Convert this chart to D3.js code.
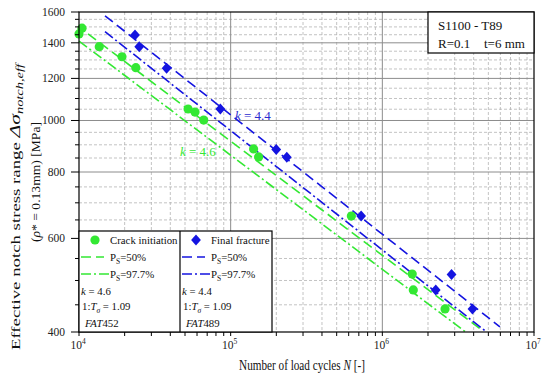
<!DOCTYPE html>
<html><head><meta charset="utf-8">
<script src="https://cdn.jsdelivr.net/npm/d3@7"></script>
<style>body{margin:0;background:#fff}svg{display:block}</style>
</head><body><svg id="c" width="550" height="375" font-family="Liberation Serif, Times New Roman, serif"></svg>
<script>
// data
const ciN = [10000, 10470, 13600, 19200, 23700, 52400, 58200, 66400, 141600, 152800, 625000, 1574000, 1600000, 2590000];
const ciS = [1455, 1492, 1377, 1318, 1257, 1051, 1037, 1002, 884, 854, 661, 514, 480, 442];
const ffN = [23400, 24950, 37800, 85500, 199700, 234500, 725000, 2250000, 2860000, 3930000];
const ffS = [1448, 1377, 1254, 1051, 882, 853, 661, 480, 513, 442];
const ciMeanN = [11465, 4540000], ciMeanS = [1455, 403];
const ciLowN = [10000, 3540000], ciLowS = [1411, 400];
const ffMeanN = [14840, 5960000], ffMeanS = [1574, 409];
const ffLowN = [14840, 4870000], ffLowS = [1469, 400];
const yTicks = [400, 600, 800, 1000, 1200, 1400, 1600];
const xTicks = [1e4, 1e5, 1e6, 1e7];
const xExp = ["4", "5", "6", "7"];

const GREEN = "#33e833", BLUE = "#1414e0";
const svg = d3.select("#c");
const L = 79, R = 534, T = 12, B = 332;
const x = d3.scaleLog().domain([1e4, 1e7]).range([L, R]);
const y = d3.scaleLog().domain([400, 1600]).range([B, T]);

const yMinor = d3.range(400, 1601, 50);
const xMinor = [];
[1e4, 1e5, 1e6].forEach(d => { for (let m = 2; m <= 9; m++) xMinor.push(d * m); });

const g = svg.append("g");
g.selectAll(".hm").data(yMinor.filter(v => v % 200 !== 0)).join("line")
  .attr("x1", L).attr("x2", R).attr("y1", d => y(d)).attr("y2", d => y(d))
  .attr("stroke", "#b4b4b4").attr("stroke-width", 0.8).attr("stroke-dasharray", "3,2");
g.selectAll(".vm").data(xMinor).join("line")
  .attr("y1", T).attr("y2", B).attr("x1", d => x(d)).attr("x2", d => x(d))
  .attr("stroke", "#b4b4b4").attr("stroke-width", 0.8).attr("stroke-dasharray", "3,2");
g.selectAll(".hM").data(yTicks.slice(1, -1)).join("line")
  .attr("x1", L).attr("x2", R).attr("y1", d => y(d)).attr("y2", d => y(d))
  .attr("stroke", "#8c8c8c").attr("stroke-width", 1);
g.selectAll(".vM").data(xTicks.slice(1, -1)).join("line")
  .attr("y1", T).attr("y2", B).attr("x1", d => x(d)).attr("x2", d => x(d))
  .attr("stroke", "#8c8c8c").attr("stroke-width", 1);

const line = d3.line().x(d => x(d[0])).y(d => y(d[1]));
function sn(N, S, col, dash) {
  svg.append("path").datum(d3.zip(N, S)).attr("d", line).attr("fill", "none")
    .attr("stroke", col).attr("stroke-width", 1.6).attr("stroke-dasharray", dash);
}
const DASH = "10,5", DASHDOT = "10,3,2,3";
sn(ciMeanN, ciMeanS, GREEN, DASH);
sn(ciLowN, ciLowS, GREEN, DASHDOT);
sn(ffMeanN, ffMeanS, BLUE, DASH);
sn(ffLowN, ffLowS, BLUE, DASHDOT);

const diamond = d3.symbol().type(d3.symbolSquare).size(48);
const dT = (cx, cy) => `translate(${cx},${cy}) scale(1,1.12) rotate(45)`;
svg.append("g").selectAll("path").data(d3.zip(ffN, ffS)).join("path")
  .attr("d", diamond).attr("transform", d => dT(x(d[0]), y(d[1]))).attr("fill", BLUE);
svg.append("g").selectAll("circle").data(d3.zip(ciN, ciS)).join("circle")
  .attr("cx", d => x(d[0])).attr("cy", d => y(d[1])).attr("r", 4.6).attr("fill", GREEN);

function klab(xx, yy, val, col) {
  const t = svg.append("text").attr("x", xx).attr("y", yy).attr("fill", col).attr("font-size", 13);
  t.append("tspan").attr("font-style", "italic").text("k");
  t.append("tspan").text(" = " + val);
}
klab(235, 120, "4.4", "#2b2bd0");
klab(180, 156, "4.6", GREEN);

const ax = svg.append("g");
ax.append("rect").attr("x", L).attr("y", T).attr("width", R - L).attr("height", B - T)
  .attr("fill", "none").attr("stroke", "#000").attr("stroke-width", 1.2);
ax.selectAll(".yt").data(yMinor).join("line")
  .attr("x1", d => yTicks.includes(d) ? L - 8 : L - 4).attr("x2", L)
  .attr("y1", d => y(d)).attr("y2", d => y(d)).attr("stroke", "#000").attr("stroke-width", 1);
ax.selectAll(".yl").data(yTicks).join("text")
  .attr("x", L - 14).attr("y", d => y(d) + 4).attr("text-anchor", "end").attr("font-size", 11.5)
  .attr("fill", "#222").text(d => d);
ax.selectAll(".xt").data(xTicks.concat(xMinor)).join("line")
  .attr("x1", d => x(d)).attr("x2", d => x(d)).attr("y1", B).attr("y2", B + 4)
  .attr("stroke", "#000").attr("stroke-width", 1);
xTicks.forEach((v, i) => {
  const t = ax.append("text").attr("x", x(v) - 1).attr("y", B + 17).attr("text-anchor", "middle")
    .attr("font-size", 11.5).attr("fill", "#222");
  t.append("tspan").text("10");
  t.append("tspan").attr("font-size", 7.5).attr("dy", -5).text(xExp[i]);
});

function fit(sel, cx, cy, len, rot) {
  const w = sel.node().getBBox().width;
  sel.attr("transform", `translate(${cx},${cy}) rotate(${rot}) scale(${len / w},1)`);
}
const xt = svg.append("text").attr("text-anchor", "middle").attr("font-size", 14).attr("fill", "#111");
xt.append("tspan").text("Number of load cycles ");
xt.append("tspan").attr("font-style", "italic").text("N");
xt.append("tspan").text(" [-]");
fit(xt, 302, 370, 126, 0);

const yt1 = svg.append("text").attr("text-anchor", "middle").attr("font-size", 13).attr("fill", "#111");
yt1.append("tspan").text("Effective notch stress range ");
yt1.append("tspan").attr("font-style", "italic").attr("font-size", 15).text("Δσ");
yt1.append("tspan").attr("font-style", "italic").attr("font-size", 10).attr("dy", 3).text("notch,eff");
fit(yt1, 20, 207, 288, -90);
const yt2 = svg.append("text").attr("text-anchor", "middle").attr("font-size", 13).attr("fill", "#111");
yt2.append("tspan").text("(");
yt2.append("tspan").attr("font-style", "italic").text("ρ");
yt2.append("tspan").text("* = 0.13mm) [MPa]");
fit(yt2, 40, 182, 120, -90);

svg.append("rect").attr("x", 428).attr("y", T).attr("width", R - 428).attr("height", 41)
  .attr("fill", "#fff").attr("stroke", "#000").attr("stroke-width", 1.2);
svg.append("text").attr("x", 438).attr("y", 30).attr("font-size", 13).attr("fill", "#111").text("S1100 - T89");
svg.append("text").attr("x", 438).attr("y", 48).attr("font-size", 13).attr("fill", "#111").text("R=0.1");
svg.append("text").attr("x", 484).attr("y", 48).attr("font-size", 13).attr("fill", "#111").text("t=6 mm");

const lg = svg.append("g");
lg.append("rect").attr("x", L).attr("y", 231).attr("width", 272 - L).attr("height", B - 231)
  .attr("fill", "#fff").attr("stroke", "#000").attr("stroke-width", 1.2);
lg.append("line").attr("x1", 180).attr("x2", 180).attr("y1", 231).attr("y2", B).attr("stroke", "#000").attr("stroke-width", 1.2);
const cols = [
  {x0: 81, col: GREEN, name: "Crack initiation", k: "4.6", ts: "1.09", fat: "452", mk: "c"},
  {x0: 182, col: BLUE, name: "Final fracture", k: "4.4", ts: "1.09", fat: "489", mk: "d"}
];
const FS = 10.8;
cols.forEach(c => {
  if (c.mk === "c") lg.append("circle").attr("cx", c.x0 + 14).attr("cy", 240).attr("r", 4.6).attr("fill", c.col);
  else lg.append("path").attr("d", diamond).attr("transform", dT(c.x0 + 14, 240)).attr("fill", c.col);
  lg.append("text").attr("x", c.x0 + 29).attr("y", 244).attr("font-size", FS).attr("fill", "#111").text(c.name);
  lg.append("line").attr("x1", c.x0).attr("x2", c.x0 + 23).attr("y1", 257).attr("y2", 257)
    .attr("stroke", c.col).attr("stroke-width", 1.6).attr("stroke-dasharray", DASH);
  lg.append("line").attr("x1", c.x0).attr("x2", c.x0 + 29).attr("y1", 274).attr("y2", 274)
    .attr("stroke", c.col).attr("stroke-width", 1.6).attr("stroke-dasharray", DASHDOT);
  [["50%", 261], ["97.7%", 278]].forEach(([p, yy]) => {
    const t = lg.append("text").attr("x", c.x0 + 29).attr("y", yy).attr("font-size", FS).attr("fill", "#111");
    t.append("tspan").text("P");
    t.append("tspan").attr("font-size", 7.5).attr("dy", 3).text("S");
    t.append("tspan").attr("dy", -3).text("=" + p);
  });
  const t1 = lg.append("text").attr("x", c.x0).attr("y", 295).attr("font-size", FS).attr("fill", "#111");
  t1.append("tspan").attr("font-style", "italic").text("k");
  t1.append("tspan").text(" = " + c.k);
  const t2 = lg.append("text").attr("x", c.x0 + 1).attr("y", 310).attr("font-size", FS).attr("fill", "#111");
  t2.append("tspan").text("1:");
  t2.append("tspan").attr("font-style", "italic").text("T");
  t2.append("tspan").attr("font-style", "italic").attr("font-size", 7.5).attr("dy", 3).text("σ");
  t2.append("tspan").attr("dy", -3).text(" = " + c.ts);
  const t3 = lg.append("text").attr("x", c.x0 + 4).attr("y", 327).attr("font-size", FS).attr("fill", "#111");
  t3.append("tspan").attr("font-style", "italic").text("FAT");
  t3.append("tspan").text(c.fat);
});
</script></body></html>
